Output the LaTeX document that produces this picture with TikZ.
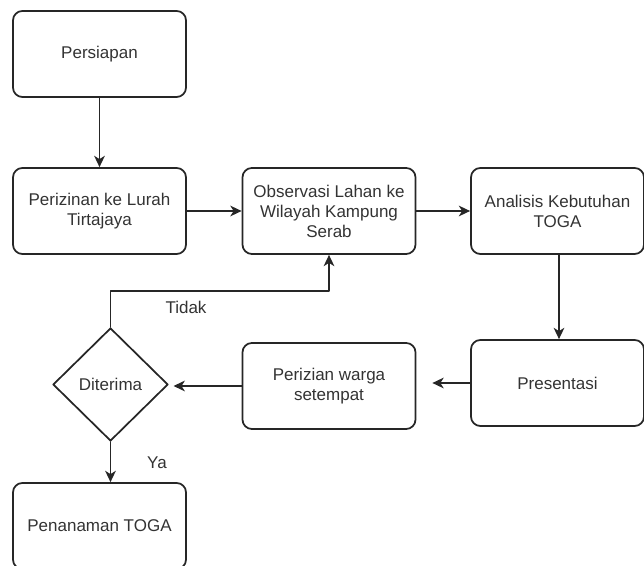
\documentclass[tikz,border=0pt]{standalone}
\usepackage{fontspec}
\setmainfont{Liberation Sans}
\usetikzlibrary{arrows.meta,shapes.geometric}
\begin{document}
\begin{tikzpicture}[line cap=round,line join=round,x=0.75pt,y=-0.75pt,
	font=\fontsize{12.75}{15}\selectfont,text=black!80,
	>={Stealth[length=8.5pt,width=8pt,inset=2.5pt]},
	box/.style={draw=black!85,line width=1.3pt,rounded corners=7pt,align=center,
		minimum width=129.75pt,minimum height=64.5pt,inner sep=2pt},
	keputusan/.style={draw=black!85,line width=1.3pt,diamond,aspect=1,inner sep=0pt,
		minimum width=86.25pt,minimum height=84.75pt},
	panah/.style={->,draw=black!85,line width=1.3pt}]
	\useasboundingbox (0,0) rectangle (644,566);
	\begin{scope}
	\clip (0,0) rectangle (644,566);
	% kotak proses
	\node[box] (persiapan) at (99.5,54) {Persiapan};
	\node[box] (lurah) at (99.5,211) {Perizinan ke Lurah\\Tirtajaya};
	\node[box] (observasi) at (329,211) {Observasi Lahan ke\\Wilayah Kampung\\Serab};
	\node[box] (analisis) at (557.5,211) {Analisis Kebutuhan\\TOGA};
	\node[box] (presentasi) at (557.5,383) {Presentasi};
	\node[box] (warga) at (329,386) {Perizian warga\\setempat};
	\node[keputusan] (diterima) at (110.5,384.5) {Diterima};
	\node[box] (penanaman) at (99.5,526) {Penanaman TOGA};
	% panah
	\draw[panah] (persiapan) -- (lurah);
	\draw[panah] (lurah) -- (observasi);
	\draw[panah] (observasi) -- (analisis);
	\draw[panah] (analisis.south -| 559,0) -- (presentasi.north -| 559,0);
	\draw[panah,shorten >=12pt] (presentasi.west) -- (presentasi.west -| warga.east);
	\draw[panah,shorten >=3.5pt] (warga.west) -- (warga.west -| diterima.east);
	\coordinate (belok) at (110.5,291);
	\draw[panah] (diterima.north) -- (belok) -| (observasi.south);
	\draw[panah] (diterima.south) -- (penanaman.north -| diterima.south);
	\node (tidak) at (186,307) {Tidak};
	\node (ya) at (157,463) {Ya};
	\end{scope}
\end{tikzpicture}
\end{document}
